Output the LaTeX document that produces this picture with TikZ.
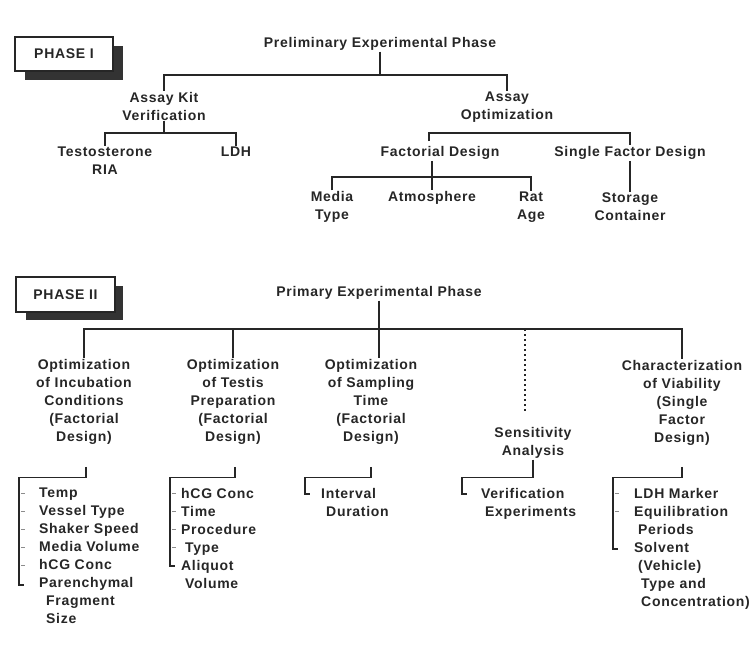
\documentclass[tikz,border=0pt]{standalone}
\usepackage{fontspec}
\setmainfont{Liberation Sans}[LetterSpace=5]
\usetikzlibrary{calc}
\begin{document}
\begin{tikzpicture}[x=1pt,y=-1pt,
  every node/.style={font=\fontsize{14}{18}\selectfont\bfseries, text=black!85, inner sep=1pt},
  ln/.style={line width=1.4pt, draw=black!85},
  dotln/.style={line width=1.6pt, draw=black!85, dash pattern=on 1.6pt off 3.4pt},
  tk/.style={line width=0.8pt, draw=black!45},
  ctr/.style={align=center},
  lst/.style={align=left, anchor=north west, inner sep=0pt},
  phbox/.style={draw=black!85, line width=1.2pt, fill=white, minimum width=98pt, minimum height=34pt, inner sep=0pt},
  shade/.style={fill=black!80}
]
\useasboundingbox (0,0) rectangle (755,648);

% ---------------- PHASE I ----------------
\fill[shade] (25,46) rectangle (123,80);
\node[phbox] (ph1) at (64,54) {PHASE I};

\node (pre) at (380,44) {Preliminary Experimental Phase};
\node[ctr] (akv) at (164,106) {Assay Kit\\Verification};
\node[ctr] (tes) at (105,161) {Testosterone\\RIA};
\node (ldh) at (236,152) {LDH};
\node[ctr] (aop) at (507,107) {Assay\\Optimization};
\node (fac) at (440,153) {Factorial Design};
\node (sfd) at (630,153) {Single Factor Design};
\node[ctr] (med) at (332,207) {Media\\Type};
\node (atm) at (432,198) {Atmosphere};
\node[ctr] (rat) at (531,207) {Rat\\Age};
\node[ctr] (sto) at (630,207) {Storage\\Container};

\coordinate (b1) at (0,75);
\coordinate (b2) at (0,133);
\coordinate (b4) at (0,177);
\coordinate (facl) at (429,141);

\draw[ln] (pre.south) -- (pre.south |- b1);
\draw[ln] (akv.north) -- (akv.north |- b1) -- (aop.north |- b1) -- (aop.north);
\draw[ln] (akv.south) -- (akv.south |- b2);
\draw[ln] (tes.north) -- (tes.north |- b2) -- (ldh.north |- b2) -- (ldh.north);
\draw[ln] (facl) -- (facl |- b2) -- (sfd.north |- b2) -- (sfd.north);
\draw[ln] (fac.south -| atm.north) -- (atm.north);
\draw[ln] (med.north) -- (med.north |- b4) -- (rat.north |- b4) -- (rat.north);
\draw[ln] (sfd.south -| sto.north) -- (sto.north);

% ---------------- PHASE II ----------------
\fill[shade] (26,286) rectangle (123,320);
\node[phbox, minimum width=99pt, minimum height=35pt] (ph2) at (65.5,294.5) {PHASE II};

\node (prim) at (379,293) {Primary Experimental Phase};
\node[ctr] (inc) at (84,402) {Optimization\\of Incubation\\Conditions\\(Factorial\\Design)};
\node[ctr] (tp) at (233,402) {Optimization\\of Testis\\Preparation\\(Factorial\\Design)};
\node[ctr] (samp) at (371,402) {Optimization\\of Sampling\\Time\\(Factorial\\Design)};
\node[ctr] (sens) at (533,443) {Sensitivity\\Analysis};
\node[ctr] (via) at (682,403) {Characterization\\of Viability\\(Single\\Factor\\Design)};

\coordinate (b5) at (0,329);
\coordinate (sdot) at (525,413);

\draw[ln] (prim.south) -- (prim.south |- samp.north);
\draw[ln] (inc.north) -- (inc.north |- b5) -- (via.north |- b5) -- (via.north);
\draw[ln] (tp.north) -- (tp.north |- b5);
\draw[dotln] (sdot |- b5) -- (sdot);

% ---------------- lists ----------------
\newcommand{\ind}{\hspace*{7pt}}
\node[lst] (incl) at (39,488) {Temp\\Vessel Type\\Shaker Speed\\Media Volume\\hCG Conc\\Parenchymal\\\ind Fragment\\\ind Size};
\node[lst] (tpl) at (181,488) {hCG Conc\\Time\\Procedure\\\hspace*{4pt}Type\\Aliquot\\\hspace*{4pt}Volume};
\node[lst] (sampl) at (321,488) {Interval\\\hspace*{5pt}Duration};
\node[lst] (sensl) at (481,488) {Verification\\\hspace*{4pt}Experiments};
\node[lst] (vial) at (634,488) {LDH Marker\\Equilibration\\\hspace*{4pt}Periods\\Solvent\\\hspace*{4pt}(Vehicle)\\\ind Type and\\\ind Concentration)};

\coordinate (k1) at (19,585);
\coordinate (k2) at (170,566);
\coordinate (k3) at (305,494);
\coordinate (k4) at (462,494);
\coordinate (k5) at (613,549);

\draw[ln] ($(inc.south)+(2,21)$) -- ++(0,11) -| (k1) -- ++(5,0);
\draw[ln] ($(tp.south)+(2,21)$) -- ++(0,11) -| (k2) -- ++(5,0);
\draw[ln] ($(samp.south)+(0,21)$) -- ++(0,11) -| (k3) -- ++(5,0);
\draw[ln] (sens.south) -- ++(0,18) -| (k4) -- ++(5,0);
\draw[ln] ($(via.south)+(0,20)$) -- ++(0,11) -| (k5) -- ++(5,0);

\foreach \y in {493,511,529,547,565} \draw[tk] (21,\y) -- (25,\y);
\foreach \y in {493,511,529,547} \draw[tk] (172,\y) -- (176,\y);
\foreach \y in {493,511} \draw[tk] (615,\y) -- (619,\y);
\end{tikzpicture}
\end{document}
